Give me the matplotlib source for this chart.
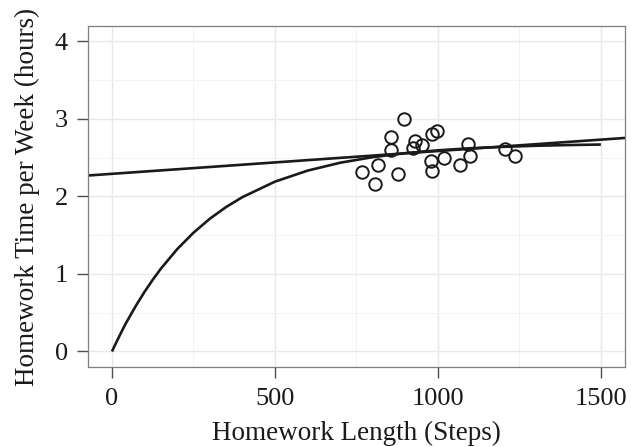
import matplotlib
matplotlib.use("Agg")
import matplotlib.pyplot as plt
import numpy as np

plt.rcParams['font.family'] = ['Liberation Serif', 'DejaVu Serif']

# observed homework (length in steps, time per week in hours)
hw_steps = [768, 807, 817, 855, 857, 879, 897, 925, 929, 952,
            980, 981, 981, 998, 1020, 1067, 1092, 1098, 1205, 1237]
hw_hours = [2.31, 2.155, 2.41, 2.77, 2.60, 2.29, 3.00, 2.63, 2.72, 2.66,
            2.46, 2.33, 2.80, 2.84, 2.49, 2.40, 2.68, 2.52, 2.61, 2.52]

# linear fit (intercept, slope)
lin_intercept = 2.292
lin_slope = 0.000294

# saturating curve
curve_x = [0, 10, 25, 40, 50, 75, 100, 125, 150, 200, 250, 300, 350, 400, 500,
           600, 700, 800, 900, 1000, 1100, 1200, 1300, 1400, 1500]
curve_y = [0, 0.089, 0.218, 0.343, 0.418, 0.601, 0.770, 0.925, 1.068, 1.320,
           1.532, 1.712, 1.863, 1.991, 2.191, 2.333, 2.435, 2.507, 2.559,
           2.595, 2.622, 2.640, 2.654, 2.663, 2.670]

xticks = [0, 500, 1000, 1500]
yticks = [0, 1, 2, 3, 4]

fig = plt.figure(figsize=(6.31, 4.47), dpi=100)
ax = fig.add_axes([0.1387, 0.179, 0.8523, 0.763])

ax.set_xlim(-75, 1575)
ax.set_ylim(-0.2, 4.2)

ax.set_xticks(xticks)
ax.set_yticks(yticks)
ax.set_xticks([250, 750, 1250], minor=True)
ax.set_yticks([0.5, 1.5, 2.5, 3.5], minor=True)
ax.grid(True, which='major', color='#e8e8e8', linewidth=1.0)
ax.grid(True, which='minor', color='#f3f3f3', linewidth=0.7)
ax.set_axisbelow(True)
ax.tick_params(which='minor', length=0)
ax.tick_params(which='major', length=8, width=1.0, color='#4d4d4d',
               labelsize=19, labelcolor='#1a1a1a')
ax.tick_params(axis='x', pad=7)
ax.tick_params(axis='y', pad=6)

for s in ax.spines.values():
    s.set_color('#7f7f7f')
    s.set_linewidth(0.9)

xl = np.array(ax.get_xlim())
ax.plot(xl, lin_intercept + lin_slope * xl, color='#1a1a1a', lw=1.9,
        solid_capstyle='butt')
ax.plot(curve_x, curve_y, color='#1a1a1a', lw=1.9, solid_capstyle='butt')
ax.plot(hw_steps, hw_hours, 'o', mfc='none', mec='#1a1a1a', ms=9, mew=1.4)

ax.set_xlabel('Homework Length (Steps)', fontsize=19.5, color='#1a1a1a',
              labelpad=8)
ax.set_ylabel('Homework Time per Week (hours)', fontsize=19.5, color='#1a1a1a',
              labelpad=11)

fig.savefig('out.png', dpi=100)
